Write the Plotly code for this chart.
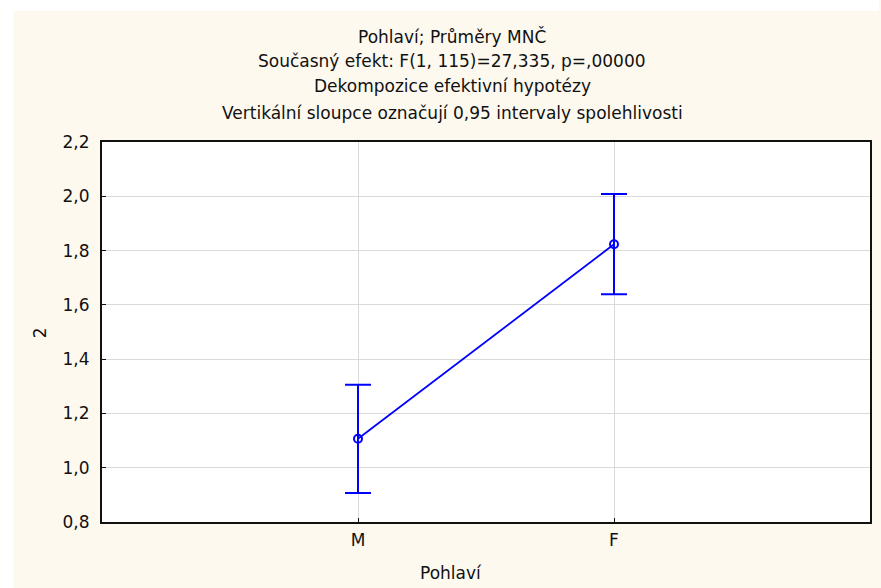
import plotly.graph_objects as go

categories = ["M", "F"]
means = [1.107, 1.823]
upper = [1.306, 2.008]
lower = [0.907, 1.639]
y_ticks = [0.8, 1.0, 1.2, 1.4, 1.6, 1.8, 2.0, 2.2]
y_tick_labels = ["0,8", "1,0", "1,2", "1,4", "1,6", "1,8", "2,0", "2,2"]
title_lines = [
    "Pohlaví; Průměry MNČ",
    "Současný efekt: F(1, 115)=27,335, p=,00000",
    "Dekompozice efektivní hypotézy",
    "Vertikální sloupce označují 0,95 intervaly spolehlivosti",
]

W, H = 881, 588
L, R, T, B = 102, 9, 142, 66
pw, ph = W - L - R, H - T - B
FONT = "DejaVu Sans"
FS = 17
BLUE = "#0000FF"
CREAM = "#FEF9EF"
TXT = "#111111"

err_plus = [u - m for u, m in zip(upper, means)]
err_minus = [m - l for m, l in zip(means, lower)]

fig = go.Figure()
fig.add_trace(go.Scatter(
    x=categories, y=means, mode="lines+markers",
    line=dict(color=BLUE, width=1.8),
    marker=dict(symbol="circle-open", size=8, color=BLUE, line=dict(width=2, color=BLUE)),
    error_y=dict(type="data", symmetric=False, array=err_plus, arrayminus=err_minus,
                 color=BLUE, thickness=2, width=13),
    showlegend=False, hoverinfo="skip",
))

def px_x(x):
    return (x - L) / pw

def px_y(y):
    return (H - B - y) / ph

shapes = [
    dict(type="rect", xref="paper", yref="paper", x0=px_x(0), x1=px_x(13), y0=px_y(H), y1=px_y(0),
         fillcolor="white", line=dict(width=0), layer="above"),
    dict(type="rect", xref="paper", yref="paper", x0=px_x(0), x1=px_x(W), y0=px_y(11), y1=px_y(0),
         fillcolor="white", line=dict(width=0), layer="above"),
]

title_y = [37, 61, 86, 113]
annotations = []
for txt, yy in zip(title_lines, title_y):
    annotations.append(dict(text=txt, xref="paper", yref="paper", x=px_x(453), y=px_y(yy),
                            xanchor="center", yanchor="middle", showarrow=False,
                            font=dict(family=FONT, size=FS, color=TXT)))
annotations.append(dict(text="Pohlaví", xref="paper", yref="paper", x=px_x(452), y=px_y(573),
                        xanchor="center", yanchor="middle", showarrow=False,
                        font=dict(family=FONT, size=FS, color=TXT)))
annotations.append(dict(text="2", xref="paper", yref="paper", x=px_x(40), y=px_y(333),
                        xanchor="center", yanchor="middle", showarrow=False, textangle=-90,
                        font=dict(family=FONT, size=FS, color=TXT)))

fig.update_layout(
    width=W, height=H,
    margin=dict(l=L, r=R, t=T, b=B),
    paper_bgcolor=CREAM, plot_bgcolor="white",
    font=dict(family=FONT, size=FS, color=TXT),
    shapes=shapes, annotations=annotations,
    xaxis=dict(
        type="category", range=[-1, 2], categoryorder="array", categoryarray=categories,
        showgrid=True, gridcolor="#DADADA", gridwidth=1,
        showline=True, linecolor=TXT, linewidth=2, mirror=True,
        ticks="inside", ticklen=4, tickcolor=TXT, tickwidth=1,
        tickfont=dict(family=FONT, size=FS), ticklabelstandoff=2,
        zeroline=False,
    ),
    yaxis=dict(
        range=[0.8, 2.2], tickvals=y_ticks, ticktext=y_tick_labels,
        showgrid=True, gridcolor="#DADADA", gridwidth=1,
        showline=True, linecolor=TXT, linewidth=2, mirror=True,
        ticks="inside", ticklen=4, tickcolor=TXT, tickwidth=1,
        tickfont=dict(family=FONT, size=FS), ticklabelstandoff=7,
        zeroline=False,
    ),
)

fig.write_html(
    "out.html",
    config={"displayModeBar": False},
    post_script="document.body.style.margin='0';document.body.style.overflow='hidden';",
)
